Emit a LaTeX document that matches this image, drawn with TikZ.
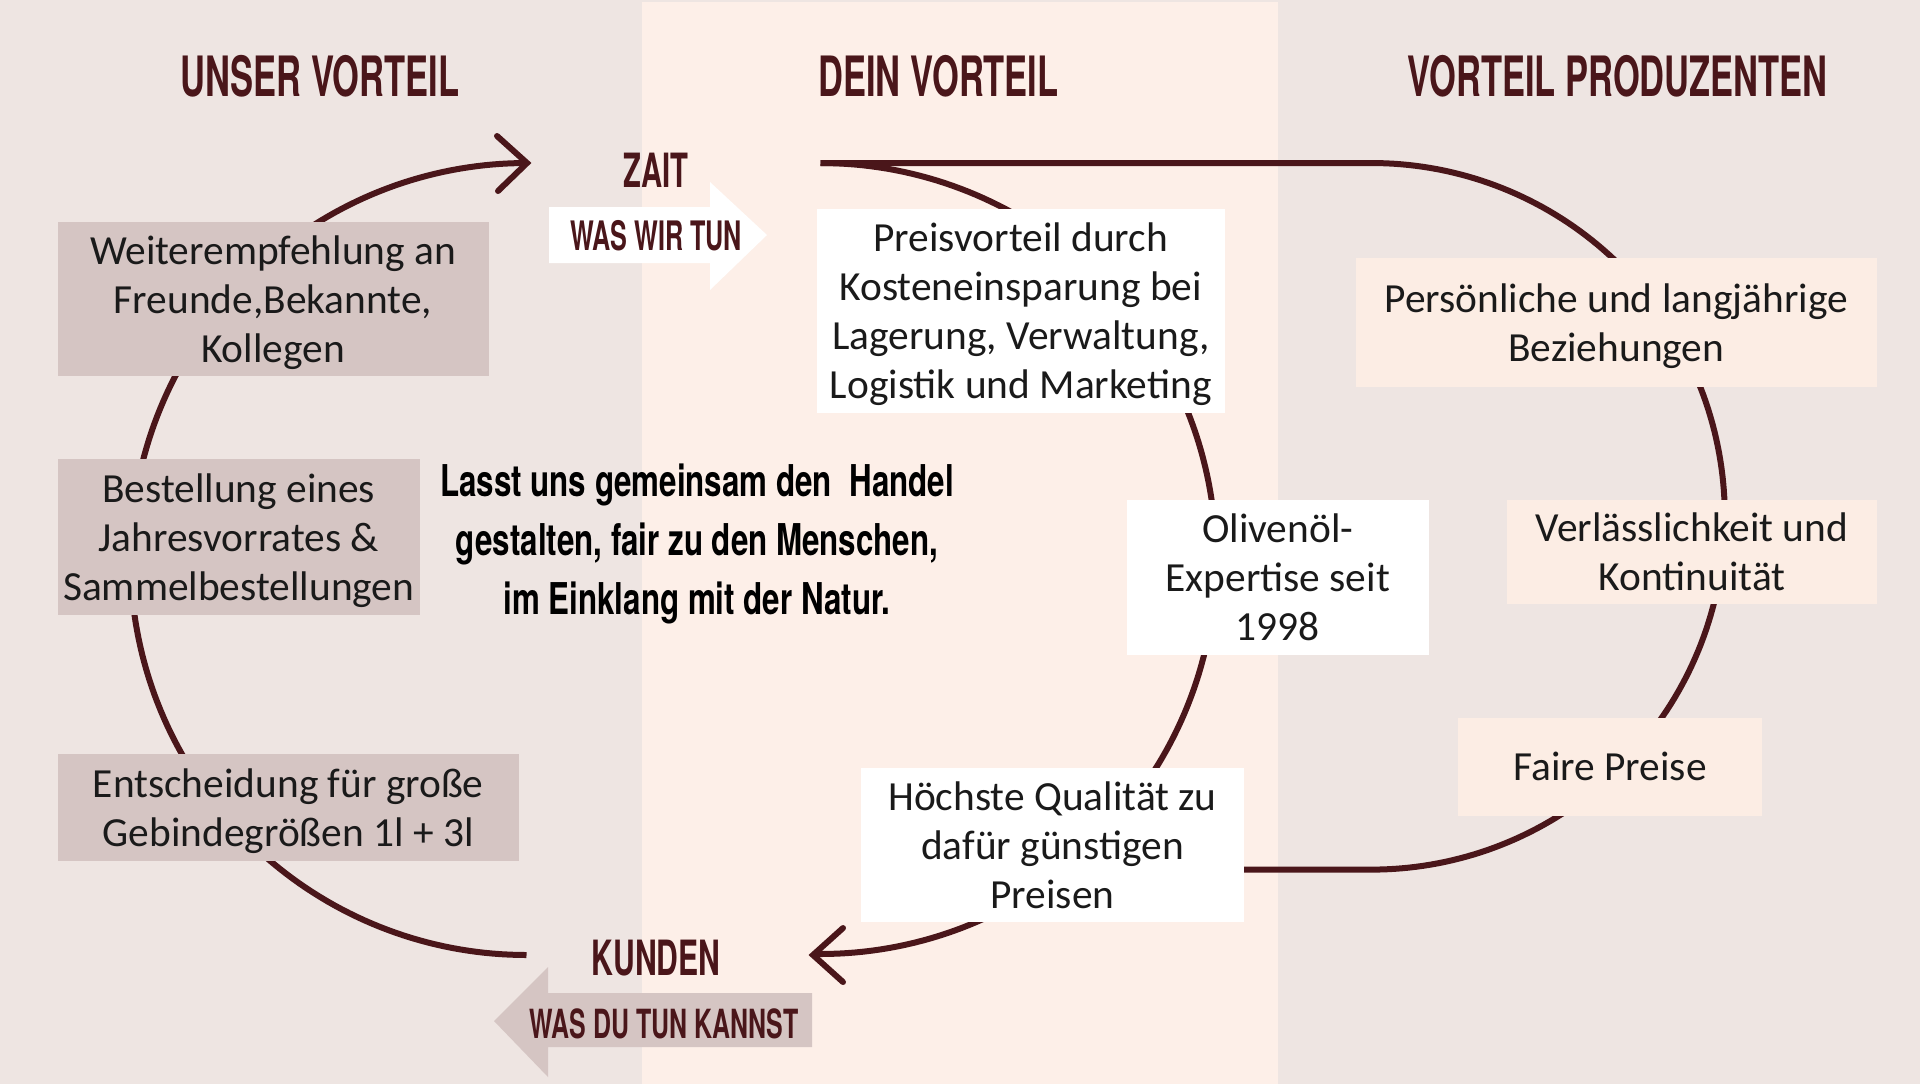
\documentclass[tikz,border=0pt]{standalone}
\usepackage{fontspec}
\setmainfont{Carlito}
\newfontfamily\headfont[FakeStretch=0.62]{TeX Gyre Heros}
\newfontfamily\midfont[FakeStretch=0.715]{TeX Gyre Heros}
\definecolor{bgcol}{HTML}{EEE5E2}
\definecolor{bandcol}{HTML}{FDEFE8}
\definecolor{leftbox}{HTML}{D5C5C3}
\definecolor{rightbox}{HTML}{FCEDE4}
\definecolor{maroon}{HTML}{4A161A}
\definecolor{bodytext}{HTML}{1A1A1A}
\begin{document}
\begin{tikzpicture}[x=0.5pt,y=-0.5pt,
  loopline/.style={draw=maroon, line width=3pt},
  chevron/.style={draw=maroon, line width=3pt, line cap=round, line join=miter},
  boxbase/.style={inner sep=0pt, align=center, text=bodytext, text depth=0pt,
    font=\fontsize{20.7}{24.5}\selectfont},
  lbox/.style={boxbase, fill=leftbox},
  mbox/.style={boxbase, fill=white},
  rbox/.style={boxbase, fill=rightbox},
  heading/.style={text=maroon, inner sep=0pt, font=\headfont\bfseries\fontsize{27.8}{30}\selectfont},
  tag/.style={text=maroon, inner sep=0pt}
]
\useasboundingbox (0,0) rectangle (1920,1084);
\fill[bgcol] (0,0) rectangle (1920,1084);
\fill[bandcol] (642,2) rectangle (1278,1084);

% headings
\node[heading] (h1) at (320,76) {UNSER VORTEIL};
\node[heading] (h2) at (938.5,76) {DEIN VORTEIL};
\node[heading] (h3) at (1617.5,76) {VORTEIL PRODUZENTEN};

% loops
\coordinate (ltop) at (526.5,163);
\coordinate (mtop) at (820.5,163);
\coordinate (rturn) at (1371.5,163);
\draw[loopline] plot[domain=90:270, samples=150] ({526.5+396*cos(\x)},{559+396*sin(\x)});
\draw[loopline] plot[domain=-90:91, samples=150] ({820.5+395.5*cos(\x)},{558.5+395.5*sin(\x)});
\draw[loopline] (mtop) -- (rturn)
  -- plot[domain=-90:90, samples=150] ({1371.5+353.3*cos(\x)},{516.3+353.3*sin(\x)})
  -- (1244,869.6);

% chevrons
\coordinate (ctip1) at (527,163);
\coordinate (ctip2) at (813,955);
\draw[chevron] (497,136) -- (ctip1) -- (498,191);
\draw[chevron] (843,928) -- (ctip2) -- (843,982);

% left boxes
\node[lbox, minimum width=215.5pt, minimum height=77.2pt] (b1) at (273,298.8)
  {Weiterempfehlung an\\Freunde,Bekannte,\\Kollegen};
\node[lbox, minimum width=181.25pt, minimum height=78pt] (b2) at (238.75,537)
  {Bestellung eines\\Jahresvorrates \&\\Sammelbestellungen};
\node[lbox, minimum width=230.75pt, minimum height=53.5pt] (b3) at (288.25,807.5)
  {Entscheidung für große\\Gebindegrößen 1l + 3l};

% middle boxes
\node[mbox, minimum width=203.75pt, minimum height=102pt] (b4) at (1020.75,311)
  {Preisvorteil durch\\Kosteneinsparung bei\\Lagerung, Verwaltung,\\Logistik und Marketing};
\node[mbox, minimum width=151.25pt, minimum height=77.7pt] (b5) at (1277.75,577.3)
  {Olivenöl-\\Expertise seit\\1998};
\node[mbox, minimum width=191.5pt, minimum height=77pt] (b6) at (1052.5,845)
  {Höchste Qualität zu\\dafür günstigen\\Preisen};

% right boxes
\node[rbox, minimum width=260.75pt, minimum height=64.5pt] (b7) at (1616.25,322.5)
  {Persönliche und langjährige\\Beziehungen};
\node[rbox, minimum width=185pt, minimum height=52pt] (b8) at (1692,551.7)
  {Verlässlichkeit und\\Kontinuität};
\node[rbox, minimum width=152pt, minimum height=49pt] (b9) at (1610,766.5)
  {Faire Preise};

% arrows with labels
\fill[white] (549,207) -- (710,207) -- (710,182) -- (767,235) -- (710,290) -- (710,263) -- (549,263) -- cycle;
\fill[leftbox] (812,993) -- (548,993) -- (548,967) -- (494,1021) -- (548,1077) -- (548,1047) -- (812,1047) -- cycle;

\node[tag, font=\headfont\bfseries\fontsize{23.6}{26}\selectfont] (zait) at (656,170) {ZAIT};
\node[tag, font=\headfont\bfseries\fontsize{20.3}{22}\selectfont] (wir) at (656,236) {WAS WIR TUN};
\node[tag, font=\headfont\bfseries\fontsize{24.3}{26}\selectfont] (kunden) at (656,958) {KUNDEN};
\node[tag, font=\headfont\bfseries\fontsize{20.1}{22}\selectfont] (du) at (664,1024) {WAS DU TUN KANNST};

% central statement
\node[inner sep=0pt, align=center, text=black, font=\midfont\bfseries\fontsize{21.9}{29.5}\selectfont] (motto) at (697,544)
  {Lasst uns gemeinsam den\ \ Handel\\gestalten, fair zu den Menschen,\\im Einklang mit der Natur.};
\end{tikzpicture}
\end{document}
